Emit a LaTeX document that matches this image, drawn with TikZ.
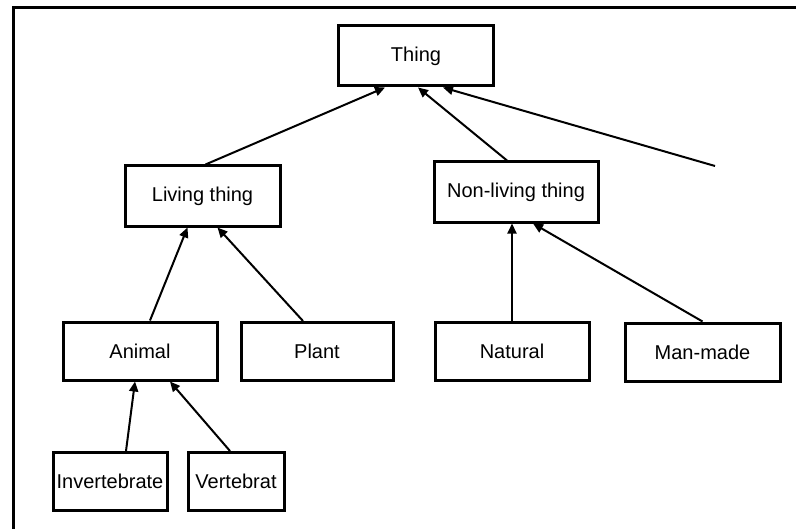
\documentclass[tikz,border=0pt]{standalone}
\usepackage{fontspec}
\setmainfont{Liberation Sans}
\usepackage{tikz}
\usetikzlibrary{calc, arrows.meta, positioning}

\begin{document}
\begin{tikzpicture}[x=0.5pt,y=-0.5pt,
    every node/.style={font=\fontsize{10}{12}\selectfont},
    box/.style={draw, line width=1.5pt, inner sep=0pt, minimum height=29pt},
    link/.style={-{Triangle[length=5pt,width=4.5pt]}, line width=1pt}]
  \useasboundingbox (0,0) rectangle (796,529);
  \draw[line width=1.5pt](796,7.5)--(13.5,7.5)--(13.5,529);
  % top and second row
  \node[box,minimum width=77.5pt,minimum height=30pt] (thing) at (416,56){Thing};
  \node[box,minimum width=77.5pt,minimum height=30pt] (living) at (202.5,196){Living thing};
  \node[box,minimum width=82pt,minimum height=30pt] (nonliving) at (516,192){Non-living thing};
  % third row
  \node[box,minimum width=77pt] (animal) at (140,351){Animal};
  \node[box,minimum width=76pt] (plant) at (317,351.5){Plant};
  \node[box,minimum width=77pt] (natural) at (512,351.5){Natural};
  \node[box,minimum width=77.5pt] (manmade) at (702.5,352){Man-made};
  % bottom row
  \node[box,minimum width=57pt] (invert) at (110,481.5){Invertebrate};
  \node[box,minimum width=48pt] (vert) at (236,481.5){Vertebrat};
  \coordinate (loose) at (715,166);

  \draw[link]($(living.north)+(3,0)$)--($(thing.south)+(-31,0)$);
  \draw[link]($(nonliving.north)+(-9,0)$)--($(thing.south)+(2,0)$);
  \draw[link](loose)--($(thing.south)+(27,0)$);
  \draw[link]($(animal.north)+(10,0)$)--($(living.south)+(-15,0)$);
  \draw[link]($(plant.north)+(-14,0)$)--($(living.south)+(15,0)$);
  \draw[link]($(natural.north)$)--($(nonliving.south)+(-4,0)$);
  \draw[link](manmade.north)--($(nonliving.south)+(17,0)$);
  \draw[link]($(invert.north)+(16,0)$)--($(animal.south)+(-5,0)$);
  \draw[link]($(vert.north)+(-6,0)$)--($(animal.south)+(30,0)$);
\end{tikzpicture}
\end{document}
